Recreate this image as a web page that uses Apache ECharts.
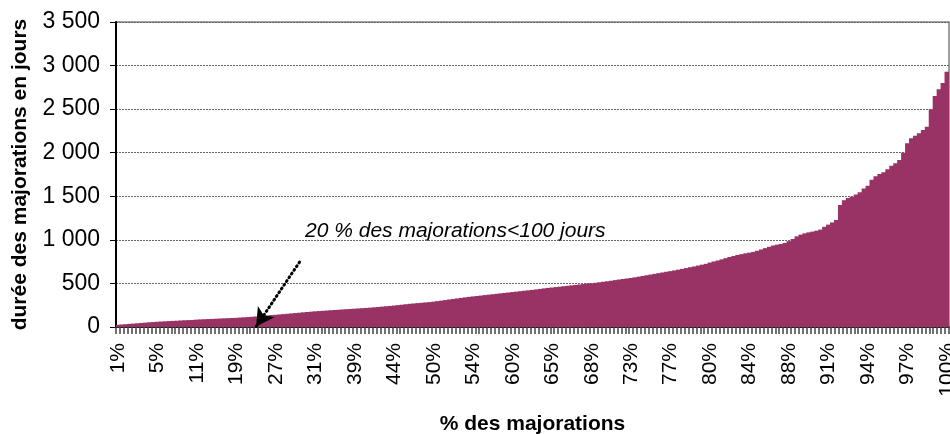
<!DOCTYPE html>
<html>
<head>
<meta charset="utf-8">
<script src="https://cdn.jsdelivr.net/npm/echarts@6/dist/echarts.min.js"></script>
<style>
html,body{margin:0;padding:0;background:#fff;}
#chart{width:950px;height:434px;}
</style>
</head>
<body>
<div id="chart"></div>
<script>
// Tick labels shown every 10 bars
var tickLabels = ['1%','5%','11%','19%','27%','31%','39%','44%','50%','54%','60%','65%','68%','73%','77%','80%','84%','88%','91%','94%','97%','100%'];
var labelStep = 10;

// Durée des majorations en jours (sorted)
var durees = [
  25,29,32,36,39,43,47,50,54,57,
  60,63,65,68,70,72,75,77,79,81,
  85,87,89,91,93,95,97,99,101,103,
  105,108,111,114,117,121,125,129,133,137,
  140,144,148,152,156,160,164,168,172,176,
  180,183,186,189,192,195,198,201,204,207,
  210,213,216,219,222,226,230,234,238,242,
  246,251,256,261,266,270,274,278,282,286,
  291,297,303,309,316,322,328,334,340,346,
  351,356,361,366,371,376,381,386,391,396,
  401,406,411,416,421,426,431,437,443,449,
  453,458,463,468,473,478,483,488,493,498,
  502,507,513,519,525,531,538,545,551,557,
  563,570,578,586,594,602,610,618,626,634,
  641,649,658,667,676,686,695,705,715,725,
  740,752,763,776,790,803,815,826,836,845,
  853,862,875,890,905,920,935,945,952,965,
  985,1010,1040,1060,1075,1086,1095,1105,1118,1150,
  1175,1200,1228,1400,1455,1480,1496,1520,1545,1590,
  1620,1690,1730,1755,1775,1810,1850,1880,1916,2000,
  2110,2165,2195,2222,2260,2299,2500,2650,2728,2800,
  2930
];

var annotationText = '20 % des majorations<100 jours';
// arrow: from [category index, value] to [category index, value]
var arrowFrom = [46, 746];
var arrowTo = [35, 5];

var categories = durees.map(function(_, i){ return String(i); });

function fmtThousands(v){
  return String(v).replace(/\B(?=(\d{3})+(?!\d))/g, ' ');
}

var chart = echarts.init(document.getElementById('chart'), null, {renderer:'canvas'});
chart.setOption({
  animation: false,
  backgroundColor: '#ffffff',
  textStyle: { fontFamily: 'Liberation Sans, Arial, sans-serif' },
  grid: { left: 116, right: 1, top: 22, bottom: 107, show: true, borderColor: '#808080', borderWidth: 1.5, containLabel: false, outerBoundsMode: 'none' },
  xAxis: {
    type: 'category',
    data: categories,
    boundaryGap: true,
    name: '% des majorations',
    nameLocation: 'middle',
    nameGap: 87,
    nameTextStyle: { fontSize: 21, fontWeight: 'bold', color: '#000', fontFamily: 'Liberation Sans, Arial, sans-serif' },
    axisLine: { show: true, lineStyle: { color: '#000', width: 1.5 } },
    axisTick: { show: true, interval: 0, length: 7, lineStyle: { color: '#444', width: 1.5 } },
    axisLabel: {
      interval: labelStep - 1,
      rotate: 90,
      margin: 16,
      fontSize: 21,
      color: '#000',
      fontFamily: 'Liberation Sans, Arial, sans-serif',
      formatter: function(v, idx){ return idx % labelStep === 0 ? tickLabels[idx / labelStep] : ''; }
    },
    splitLine: { show: false }
  },
  yAxis: {
    type: 'value',
    min: 0, max: 3500, interval: 500,
    name: 'durée des majorations en jours',
    nameLocation: 'middle',
    nameGap: 85,
    nameRotate: 90,
    nameTextStyle: { fontSize: 21, fontWeight: 'bold', color: '#000', fontFamily: 'Liberation Sans, Arial, sans-serif' },
    axisLine: { show: true, lineStyle: { color: '#000', width: 2 } },
    axisTick: { show: true, length: 6, lineStyle: { color: '#000', width: 1 } },
    axisLabel: { fontSize: 23, color: '#000', margin: 16, formatter: fmtThousands, fontFamily: 'Liberation Sans, Arial, sans-serif' },
    splitLine: { show: true, lineStyle: { color: '#666', type: [2, 1], width: 1 } }
  },
  series: [{
    type: 'bar',
    data: durees,
    barWidth: 5,
    barGap: '0%',
    itemStyle: { color: '#993366' },
    silent: true,
    markLine: {
      silent: true,
      animation: false,
      symbol: ['none', 'arrow'],
      symbolSize: [15, 18],
      label: { show: false },
      lineStyle: { color: '#000', type: [1, 3.5], width: 3, cap: 'round' },
      data: [[ { coord: arrowFrom }, { coord: arrowTo } ]]
    }
  }],
  graphic: [{
    type: 'text',
    left: 305,
    top: 221,
    style: { text: annotationText, fontSize: 21, fontStyle: 'italic', fill: '#000', fontFamily: 'Liberation Sans, Arial, sans-serif' }
  }]
});
</script>
</body>
</html>
